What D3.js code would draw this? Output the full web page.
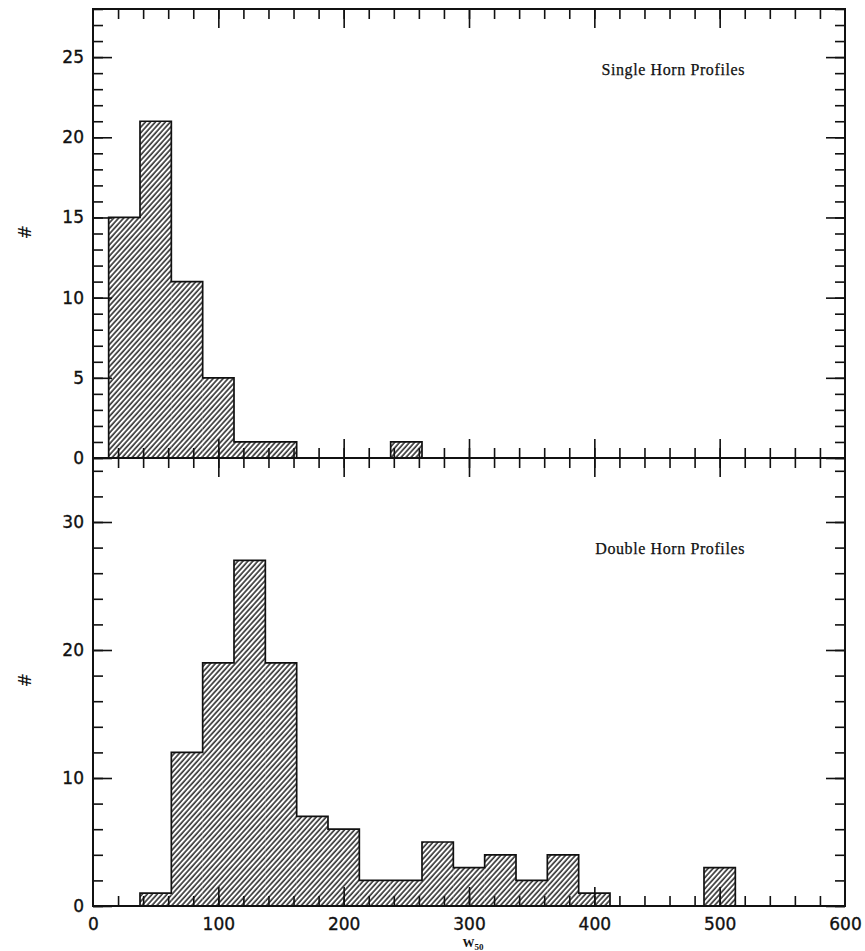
<!DOCTYPE html>
<html>
<head>
<meta charset="utf-8" />
<script src="https://d3js.org/d3.v7.min.js"></script>
<style>
    body { margin: 0; background: #fff; }
    .tick text { font-family: "DejaVu Sans", sans-serif; font-size: 17px; fill: #111; stroke: #111; stroke-width: 0.35px; }
    .tick line { stroke: #111; stroke-width: 1.6px; }
    .domain { display: none; }
</style>
</head>
<body>
<div id="visu"></div>
<script>
    // Largeur des classes et bornes inférieures
    const binWidth = 25;
    const singleEdges = [12.5, 37.5, 62.5, 87.5, 112.5, 137.5, 237.5];
    const singleCounts = [15, 21, 11, 5, 1, 1, 1];
    const doubleEdges = [37.5, 62.5, 87.5, 112.5, 137.5, 162.5, 187.5, 212.5, 237.5, 262.5, 287.5, 312.5, 337.5, 362.5, 387.5, 487.5];
    const doubleCounts = [1, 12, 19, 27, 19, 7, 6, 2, 2, 5, 3, 4, 2, 4, 1, 3];
    const xTicks = [0, 100, 200, 300, 400, 500, 600];
    const singleTicks = [0, 5, 10, 15, 20, 25];
    const doubleTicks = [0, 10, 20, 30];

    const width = 865, height = 951;
    const left = 93, right = 845;
    const top1 = 9, mid = 458, bottom2 = 906;

    const svg = d3.select("#visu").append("svg")
        .attr("width", width)
        .attr("height", height);

    // motif hachuré
    svg.append("defs").append("pattern")
        .attr("id", "hatch")
        .attr("patternUnits", "userSpaceOnUse")
        .attr("width", 3.7)
        .attr("height", 10)
        .attr("patternTransform", "rotate(42)")
        .append("line")
        .attr("x1", 1).attr("y1", 0)
        .attr("x2", 1).attr("y2", 10)
        .attr("stroke", "#111")
        .attr("stroke-width", 1.4);

    const x = d3.scaleLinear().domain([0, 600]).range([left, right]);

    const panels = [
        { edges: singleEdges, counts: singleCounts, ymax: 28, y0: mid, y1: top1, major: singleTicks, minorStep: 1,
          title: "Single Horn Profiles", titleY: 75, labelY: 232, bottomLabels: false },
        { edges: doubleEdges, counts: doubleCounts, ymax: 35, y0: bottom2, y1: mid, major: doubleTicks, minorStep: 2,
          title: "Double Horn Profiles", titleY: 554, labelY: 680, bottomLabels: true }
    ];

    const xMinor = d3.range(0, 601, 20);

    // contour en escalier : groupes de classes contiguës
    function stepPoints(edges, counts) {
        const groups = [];
        edges.forEach((e, i) => {
            const last = groups[groups.length - 1];
            if (last && Math.abs(last[last.length - 1].x0 + binWidth - e) < 1e-6) last.push({ x0: e, n: counts[i] });
            else groups.push([{ x0: e, n: counts[i] }]);
        });
        return groups.map(g => {
            const pts = [[g[0].x0, 0]];
            g.forEach(b => { pts.push([b.x0, b.n]); pts.push([b.x0 + binWidth, b.n]); });
            pts.push([g[g.length - 1].x0 + binWidth, 0]);
            return pts;
        });
    }

    panels.forEach(p => {
        const y = d3.scaleLinear().domain([0, p.ymax]).range([p.y0, p.y1]);
        const yMinor = d3.range(0, p.ymax + 0.001, p.minorStep);
        const g = svg.append("g");

        // barres de l'histogramme (remplissage hachuré)
        g.selectAll("rect.bar")
            .data(p.edges.map((e, i) => ({ x0: e, n: p.counts[i] })))
            .enter().append("rect")
            .attr("class", "bar")
            .attr("x", d => x(d.x0))
            .attr("y", d => y(d.n))
            .attr("width", d => x(d.x0 + binWidth) - x(d.x0))
            .attr("height", d => y(0) - y(d.n))
            .attr("fill", "url(#hatch)");

        const line = d3.line().x(d => x(d[0])).y(d => y(d[1]));
        g.selectAll("path.outline")
            .data(stepPoints(p.edges, p.counts))
            .enter().append("path")
            .attr("class", "outline")
            .attr("d", line)
            .attr("fill", "none")
            .attr("stroke", "#111")
            .attr("stroke-width", 1.7);

        // graduations gauche / droite
        g.append("g").attr("transform", `translate(${left},0)`)
            .call(d3.axisLeft(y).tickValues(p.major).tickSizeInner(-19).tickSizeOuter(0).tickPadding(9).tickFormat(d3.format("d")));
        g.append("g").attr("transform", `translate(${left},0)`)
            .call(d3.axisLeft(y).tickValues(yMinor).tickSizeInner(-10).tickSizeOuter(0).tickFormat(""));
        g.append("g").attr("transform", `translate(${right},0)`)
            .call(d3.axisRight(y).tickValues(p.major).tickSizeInner(-19).tickSizeOuter(0).tickFormat(""));
        g.append("g").attr("transform", `translate(${right},0)`)
            .call(d3.axisRight(y).tickValues(yMinor).tickSizeInner(-10).tickSizeOuter(0).tickFormat(""));

        // graduations haut / bas
        g.append("g").attr("transform", `translate(0,${p.y1})`)
            .call(d3.axisTop(x).tickValues(xTicks.slice(1, -1)).tickSizeInner(-19).tickSizeOuter(0).tickFormat(""));
        g.append("g").attr("transform", `translate(0,${p.y1})`)
            .call(d3.axisTop(x).tickValues(xMinor.slice(1, -1)).tickSizeInner(-10).tickSizeOuter(0).tickFormat(""));
        g.append("g").attr("transform", `translate(0,${p.y0})`)
            .call(d3.axisBottom(x).tickValues(p.bottomLabels ? xTicks : xTicks.slice(1, -1)).tickSizeInner(-19).tickSizeOuter(0)
                .tickPadding(p.bottomLabels ? 12 : 0).tickFormat(p.bottomLabels ? d3.format("d") : ""))
            .selectAll(".tick line").attr("opacity", d => (p.bottomLabels && (d === 0 || d === 600)) ? 0 : 1);
        g.append("g").attr("transform", `translate(0,${p.y0})`)
            .call(d3.axisBottom(x).tickValues(xMinor.slice(1, -1)).tickSizeInner(-10).tickSizeOuter(0).tickFormat(""));

        // cadre
        g.append("rect")
            .attr("x", left).attr("y", p.y1)
            .attr("width", right - left).attr("height", p.y0 - p.y1)
            .attr("fill", "none")
            .attr("stroke", "#111")
            .attr("stroke-width", 2);

        g.append("text")
            .attr("x", 745).attr("y", p.titleY)
            .attr("text-anchor", "end")
            .style("font-family", "Liberation Serif, serif")
            .style("font-size", "16px")
            .style("letter-spacing", "0.6px")
            .attr("fill", "#111")
            .attr("stroke", "#111")
            .attr("stroke-width", 0.25)
            .text(p.title);

        g.append("text")
            .attr("transform", `translate(31,${p.labelY}) rotate(-90)`)
            .attr("text-anchor", "middle")
            .style("font-family", "DejaVu Sans, sans-serif")
            .style("font-size", "17px")
            .attr("fill", "#111")
            .text("#");
    });

    // titre de l'axe x
    const xl = svg.append("text")
        .attr("x", 473).attr("y", 947)
        .attr("text-anchor", "middle")
        .style("font-family", "Liberation Serif, serif")
        .style("font-weight", "bold")
        .style("font-size", "12px")
        .attr("fill", "#111");
    xl.append("tspan").text("W");
    xl.append("tspan").attr("dy", 3).style("font-size", "9px").text("50");
</script>
</body>
</html>
